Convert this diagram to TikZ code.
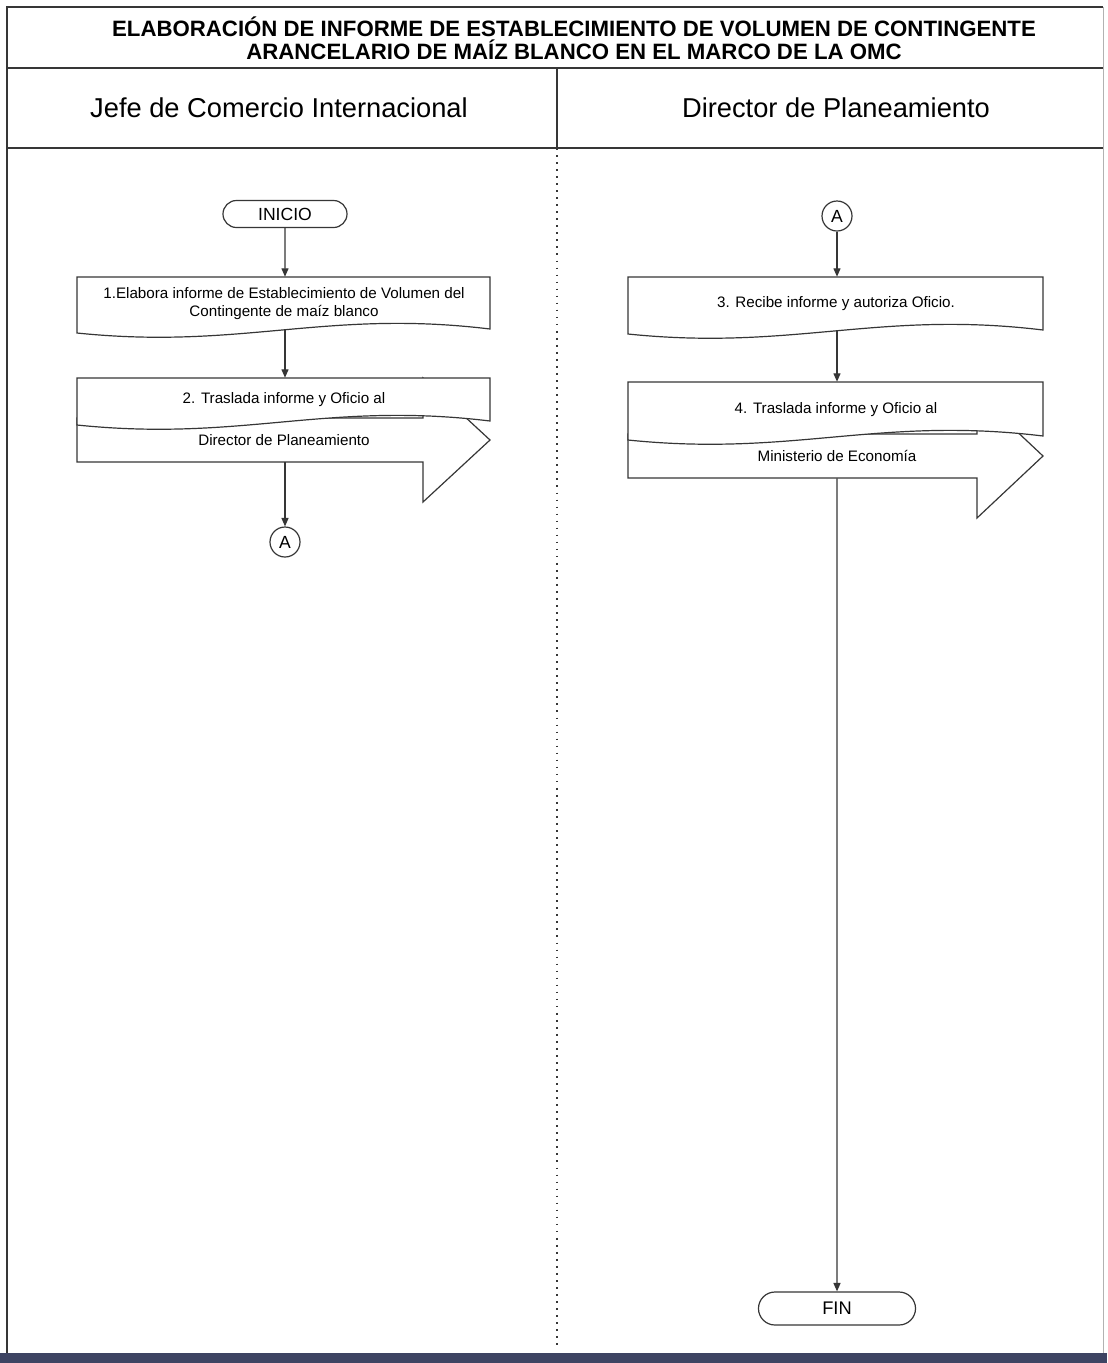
\documentclass[tikz,border=0pt]{standalone}
\usepackage{fontspec}
\setmainfont{Liberation Sans}
\usepackage{tikz}
\usepackage{xcolor}
\usetikzlibrary{arrows.meta, shapes.misc}
\definecolor{linegray}{HTML}{363636}
\definecolor{bandblue}{HTML}{3E4463}
% document box: left, top, right, centre of the wavy bottom
\newcommand{\docbox}[5][]{
    \draw[#1] (#2, #3) -- (#4, #3) -- (#4, #5+1) .. controls +(-165, 20) and +(165, -17) .. (#2, #5-3) -- cycle;
    }
% outgoing arrow: left, shoulder, tip, centre line
\newcommand{\sendarrow}[5][]{
    \draw[#1] (#2, #5+22) -- (#3, #5+22) -- (#3, #5+62) -- (#4, #5) -- (#3, #5-62) -- (#3, #5-22) -- (#2, #5-22) -- cycle;
    }
\tikzset{
    boxline/.style={draw=linegray, fill=white, line width=0.85pt},
    terminal/.style={rounded rectangle, draw=linegray, fill=white, line width=0.85pt, inner sep=0pt, font=\fontsize{12.5}{14}\selectfont},
    link/.style={circle, draw=linegray, fill=white, line width=0.85pt, minimum size=0.75cm, inner sep=0pt, font=\fontsize{12.5}{14}\selectfont},
    steptext/.style={align=center, inner sep=0pt, font=\fontsize{10.8}{12.8}\selectfont},
    lanetext/.style={font=\fontsize{19.4}{22}\selectfont},
    flow/.style={draw=linegray, line width=0.85pt, -{Triangle[length=6pt, width=5pt]}},
}

\begin{document}
\begin{tikzpicture}[x=0.025cm, y=0.025cm]
    \useasboundingbox (0, 0) rectangle (1107, -1363);
    \fill[white] (0, 0) rectangle (1107, -1363);

    % frame, title and lanes
    \draw[linegray, line width=1.6pt] (7, -1353) -- (7, -7) -- (1103, -7);
    \draw[gray!60, line width=0.6pt] (1103, -7) -- (1103, -1353);
    \draw[linegray, line width=1.2pt] (7, -68) -- (1103, -68);
    \draw[linegray, line width=1.2pt] (7, -148) -- (1103, -148);
    \draw[linegray, line width=1.2pt] (557, -68) -- (557, -148);
    \draw[linegray, line width=1.1pt, dash pattern=on 1.2pt off 3.8pt] (557, -148) -- (557, -1350);
    \fill[bandblue] (0, -1353) rectangle (1107, -1363);

    \node[align=center, font=\bfseries\fontsize{15.8}{16.4}\selectfont] (title) at (574, -38)
        {ELABORACIÓN DE INFORME DE ESTABLECIMIENTO DE VOLUMEN DE CONTINGENTE\\ARANCELARIO DE MAÍZ BLANCO EN EL MARCO DE LA OMC};
    \node[lanetext] (jefe) at (279, -108) {Jefe de Comercio Internacional};
    \node[lanetext] (director) at (836, -108) {Director de Planeamiento};

    % Jefe de Comercio Internacional
    \node[terminal, minimum width=3.1cm, minimum height=0.675cm] (inicio) at (285, -214) {INICIO};
    \docbox[boxline]{77}{-277}{490}{-330}
    \node[steptext, minimum height=1.325cm] (b1) at (284, -303.5)
        {1.Elabora informe de Establecimiento de Volumen del\\Contingente de maíz blanco};
    \sendarrow[boxline]{77}{423}{490}{-440}
    \docbox[boxline]{77}{-378}{490}{-422}
    \node[steptext, minimum height=1.1cm] (b2) at (284, -400) {2. Traslada informe y Oficio al};
    \node[steptext, minimum height=1.1cm] (b2o) at (284, -440) {Director de Planeamiento};
    \node[link] (a1) at (285, -542) {A};

    % Director de Planeamiento
    \node[link] (a2) at (837, -216) {A};
    \docbox[boxline]{628}{-277}{1043}{-331}
    \node[steptext, minimum height=1.35cm] (b3) at (836, -304) {3. Recibe informe y autoriza Oficio.};
    \sendarrow[boxline]{628}{977}{1043}{-456}
    \docbox[boxline]{628}{-382}{1043}{-437}
    \node[steptext, minimum height=1.375cm] (b4) at (836, -409.5) {4. Traslada informe y Oficio al};
    \node[steptext, minimum height=1.1cm] (b4o) at (837, -456) {Ministerio de Economía};
    \node[terminal, minimum width=3.925cm, minimum height=0.825cm, font=\fontsize{13}{15}\selectfont] (fin) at (837, -1308.5) {FIN};

    \draw[flow] (inicio) -- (inicio |- b1.north);
    \draw[flow] (inicio |- b1.south) -- (inicio |- b2.north);
    \draw[flow] (a1 |- b2o.south) -- (a1);
    \draw[flow] (a2) -- (a2 |- b3.north);
    \draw[flow] (a2 |- b3.south) -- (a2 |- b4.north);
    \draw[flow] (fin |- b4o.south) -- (fin);
\end{tikzpicture}
\end{document}
